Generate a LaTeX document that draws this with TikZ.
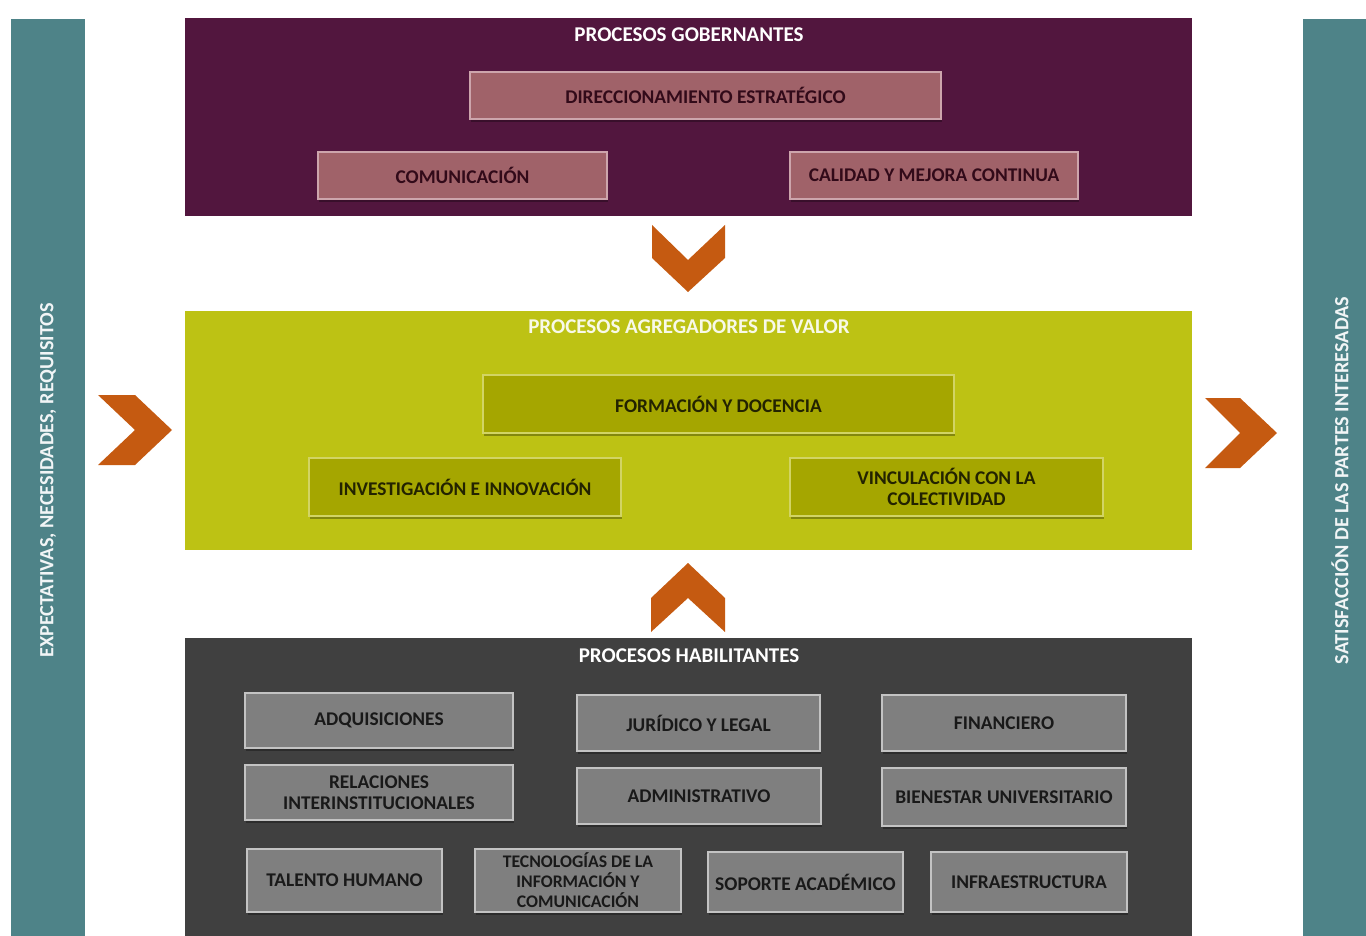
\documentclass[tikz,border=0pt]{standalone}
\usepackage{fontspec}
\setmainfont{Carlito}
\usetikzlibrary{shadows}
\definecolor{teal1}{RGB}{78,131,136}
\definecolor{purp}{RGB}{82,22,62}
\definecolor{rose}{RGB}{160,98,105}
\definecolor{roseb}{RGB}{205,165,172}
\definecolor{rosetx}{RGB}{50,10,25}
\definecolor{lime}{RGB}{189,194,20}
\definecolor{olive}{RGB}{165,166,0}
\definecolor{oliveb}{RGB}{210,212,100}
\definecolor{olivetx}{RGB}{35,35,0}
\definecolor{dark}{RGB}{64,64,64}
\definecolor{gbox}{RGB}{127,127,127}
\definecolor{gboxb}{RGB}{195,195,195}
\definecolor{gtx}{RGB}{25,25,25}
\definecolor{chev}{RGB}{197,90,17}
\tikzset{
  fz/.style={font=\fontsize{#1}{21.5}\selectfont\bfseries},
  panel/.style={rectangle, inner sep=0pt, draw=none},
  title/.style={fz=21, text=white, inner sep=0pt},
  inbox/.style={rectangle, inner sep=2pt, line width=1.5pt, align=center, fz=19.4,
     drop shadow={shadow xshift=1pt, shadow yshift=-3pt, opacity=0.3, fill=black}},
  pbox/.style={inbox, fill=rose, draw=roseb, text=rosetx},
  obox/.style={inbox, fill=olive, draw=oliveb, text=olivetx},
  gbx/.style={inbox, fill=gbox, draw=gboxb, text=gtx},
  sidebar/.style={rectangle, fill=teal1, inner sep=0pt},
  sidetext/.style={fz=20.2, text=white!92!teal1, rotate=90},
  chevron/.style={fill=chev, draw=none}
}
\begin{document}
\begin{tikzpicture}[x=1pt,y=-1pt]
\useasboundingbox (0,0) rectangle (1366,936);
\fill[white] (0,0) rectangle (1366,936);

% side bars
\node[sidebar, minimum width=74pt, minimum height=917pt] (lbar) at (48,477.5) {};
\node[sidebar, minimum width=63pt, minimum height=917pt] (rbar) at (1334.5,477.5) {};
\node[sidetext] (ltext) at (48,480.5) {EXPECTATIVAS, NECESIDADES, REQUISITOS};
\node[sidetext] (rtext) at (1340,480.5) {SATISFACCIÓN DE LAS PARTES INTERESADAS};

% panels
\node[panel, fill=purp, minimum width=1007pt, minimum height=198pt] (gob) at (688.5,117) {};
\node[panel, fill=lime, minimum width=1007pt, minimum height=239pt] (agr) at (688.5,430.5) {};
\node[panel, fill=dark, minimum width=1007pt, minimum height=298pt] (hab) at (688.5,787) {};

\node[title] (tgob) at (689,35) {PROCESOS GOBERNANTES};
\node[title, text=white!90!lime] (tagr) at (689,327) {PROCESOS AGREGADORES DE VALOR};
\node[title] (thab) at (689,656) {PROCESOS HABILITANTES};

% gobernantes
\node[pbox, minimum width=471pt, minimum height=47pt] (dir) at (705.5,95.5) {DIRECCIONAMIENTO ESTRATÉGICO};
\node[pbox, minimum width=289pt, minimum height=47pt] (com) at (462.5,175.5) {COMUNICACIÓN};
\node[pbox, minimum width=288pt, minimum height=47pt] (cal) at (934,175.5) {CALIDAD Y MEJORA CONTINUA};

% agregadores
\node[obox, minimum width=471pt, minimum height=58pt] (for) at (718.5,404) {FORMACIÓN Y DOCENCIA};
\node[obox, minimum width=312pt, minimum height=58pt] (inv) at (465,487) {INVESTIGACIÓN E INNOVACIÓN};
\node[obox, minimum width=313pt, minimum height=58pt] (vin) at (946.5,487) {VINCULACIÓN CON LA\\COLECTIVIDAD};

% habilitantes
\node[gbx, minimum width=268pt, minimum height=55pt] (adq) at (379,720.5) {ADQUISICIONES};
\node[gbx, minimum width=268pt, minimum height=55pt] (rel) at (379,792.5) {RELACIONES\\INTERINSTITUCIONALES};
\node[gbx, minimum width=243pt, minimum height=56pt] (jur) at (698.5,723) {JURÍDICO Y LEGAL};
\node[gbx, minimum width=244pt, minimum height=56pt] (adm) at (699,796) {ADMINISTRATIVO};
\node[gbx, minimum width=244pt, minimum height=56pt] (fin) at (1004,723) {FINANCIERO};
\node[gbx, minimum width=244pt, minimum height=58pt] (bie) at (1004,797) {BIENESTAR UNIVERSITARIO};
\node[gbx, minimum width=195pt, minimum height=63pt] (tal) at (344.5,880.5) {TALENTO HUMANO};
\node[gbx, minimum width=206pt, minimum height=63pt, font=\fontsize{17.7}{20}\selectfont\bfseries] (tec) at (578,880.5) {TECNOLOGÍAS DE LA\\INFORMACIÓN Y\\COMUNICACIÓN};
\node[gbx, minimum width=195pt, minimum height=60pt] (sop) at (805.5,882) {SOPORTE ACADÉMICO};
\node[gbx, minimum width=196pt, minimum height=60pt] (inf) at (1029,882) {INFRAESTRUCTURA};

% chevrons
\fill[chevron] (652,225) -- (688,260) -- (725,225) -- (725,258) -- (688,292) -- (652,258) -- cycle;
\fill[chevron] (688,563) -- (725,598) -- (725,632) -- (688,598) -- (651,632) -- (651,598) -- cycle;
\fill[chevron] (98,395) -- (135,395) -- (172,430) -- (135,465) -- (98,465) -- (135,430) -- cycle;
\fill[chevron] (1205,398) -- (1240,398) -- (1277,433) -- (1240,468) -- (1205,468) -- (1240,433) -- cycle;
\end{tikzpicture}
\end{document}
